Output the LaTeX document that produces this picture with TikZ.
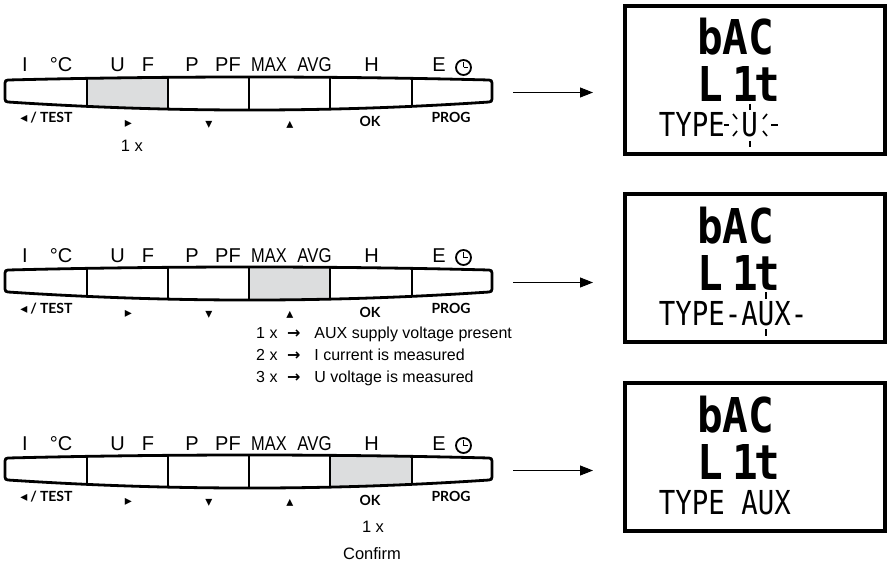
\documentclass[tikz,border=0pt]{standalone}
\usepackage{fontspec}
\usetikzlibrary{arrows.meta}
\setmainfont{Liberation Sans}
\newfontfamily\symfont{DejaVu Sans}
\newfontfamily\lcdfont{DejaVu Sans Mono}
\newfontfamily\keyfont{Lato}
\definecolor{keygray}{RGB}{220,221,222}
\newcommand\cond[2]{\scalebox{#1}[1]{#2}}
\def\barshape{(8,80) .. controls (170,76) and (330,76) .. (489,80) .. controls (491,80) and (492,81) .. (492,83) -- (492,99) .. controls (492,101) and (491,102) .. (489,102) .. controls (330,112.7) and (170,112.7) .. (8,102) .. controls (6,102) and (5,101) .. (5,99) -- (5,83) .. controls (5,81) and (6,80) .. (8,80) -- cycle}
\tikzset{
  barline/.style={line width=2.8pt, line join=round},
  toplbl/.style={font=\fontsize{20}{20}\selectfont, anchor=base, inner sep=0pt},
  keylbl/.style={font=\keyfont\bfseries\fontsize{14}{14}\selectfont, anchor=base, inner sep=0pt},
  tri/.style={font=\symfont\fontsize{14}{14}\selectfont, inner sep=0pt},
  desc/.style={font=\fontsize{16}{16}\selectfont, anchor=base west, inner sep=0pt},
  descc/.style={font=\fontsize{16.5}{16.5}\selectfont, anchor=base, inner sep=0pt},
  lcdbox/.style={draw, line width=4pt, minimum width=260pt, minimum height=148pt, inner sep=0pt},
  bigseg/.style={font=\lcdfont\bfseries\fontsize{48}{48}\selectfont, anchor=base west, inner sep=0pt},
  smallseg/.style={font=\lcdfont\fontsize{33}{33}\selectfont, anchor=base west, inner sep=0pt},
  flow/.style={line width=0.9pt, -{Triangle[length=13pt,width=10pt]}},
  ray/.style={line width=1.6pt},
  clock/.style={circle, draw, line width=1.8pt, minimum size=15pt, inner sep=0pt},
}
\newcommand\keypad[4]{%
\begin{scope}[shift={(0,#1)}]
  \begin{scope}
    \clip \barshape;
    \fill[keygray] (#2,60) rectangle (#3,130);
    \foreach \x in {87,168,249,330,412} \draw[barline] (\x,60) -- (\x,130);
  \end{scope}
  \draw[barline] \barshape;
  \node[toplbl] (I#4) at (25,72) {I};
  \node[toplbl] (C#4) at (61,72) {°C};
  \node[toplbl] (U#4) at (117.5,72) {U};
  \node[toplbl] (F#4) at (148,72) {F};
  \node[toplbl] (P#4) at (192,72) {P};
  \node[toplbl] (PF#4) at (228,72) {PF};
  \node[toplbl] (MAX#4) at (269,72) {\cond{0.82}{MAX}};
  \node[toplbl] (AVG#4) at (314.5,72) {\cond{0.84}{AVG}};
  \node[toplbl] (H#4) at (371.5,72) {H};
  \node[toplbl] (E#4) at (439,72) {E};
  \node[clock] (clk#4) at (463.5,67.5) {};
  \draw[line width=1.8pt] (clk#4.center) -- ++(0,-5.5);
  \draw[line width=1.8pt] (clk#4.center) -- ++(4.5,0);
  \node[keylbl] (TEST#4) at (46.5,123) {{\symfont\fontsize{14}{14}\selectfont ◂}\kern3pt/\kern3pt TEST};
  \node[tri] (R#4) at (128.5,124) {▸};
  \node[tri] (D#4) at (209,124.5) {▾};
  \node[tri] (A#4) at (290,124.5) {▴};
  \node[keylbl] (OK#4) at (370,127) {OK};
  \node[keylbl] (PROG#4) at (451,123) {PROG};
\end{scope}}
\newcommand\display[2]{%
\begin{scope}[shift={(0,#1)}]
  \node[lcdbox] (disp#2) at (755,80) {};
  \node[bigseg] (bac#2) at (697,55) {\cond{0.89}{bAC}};
  \node[bigseg] (lit#2) at (697,102) {\cond{0.89}{L\kern11pt 1\kern-4pt t}};
\end{scope}}
\begin{document}
\begin{tikzpicture}[x=1pt,y=-1pt]
\useasboundingbox (0,0) rectangle (890,564);
% keypads
\keypad{0}{87}{168}{a}
\keypad{190}{249}{330}{b}
\keypad{378}{330}{412}{c}
% displays
\display{0}{1}
\display{188}{2}
\display{377}{3}
% bottom lines of displays
\node[smallseg] (type1) at (658.75,137) {\cond{0.83}{TYPE\kern19.87pt U}};
\draw[ray] (724,125) -- (729,125);
\draw[ray] (771,125) -- (778,125);
\draw[ray] (750,104) -- (750,110);
\draw[ray] (750,141) -- (750,147);
\draw[ray] (733,114) -- (737,119);
\draw[ray] (733,136) -- (737,131);
\draw[ray] (767,114) -- (763,119);
\draw[ray] (767,136) -- (763,131);
\node[smallseg] (type2) at (658.75,325) {\cond{0.83}{TYPE-AUX-}};
\draw[ray] (766,292) -- (766,299);
\draw[ray] (766,329) -- (766,336);
\node[smallseg] (type3) at (658.75,514) {\cond{0.83}{TYPE\kern19.87pt AUX}};
% annotations
\node[descc] (n1) at (132,152) {1 x};
\node[desc] (m1) at (256,338) {1 x\hspace{9.5pt}{\symfont\bfseries →}\hspace{14pt}AUX supply voltage present};
\node[desc] (m2) at (256,360) {2 x\hspace{9.5pt}{\symfont\bfseries →}\hspace{14pt}I current is measured};
\node[desc] (m3) at (256,382) {3 x\hspace{9.5pt}{\symfont\bfseries →}\hspace{14pt}U voltage is measured};
\node[descc] (n3) at (373,532) {1 x};
\node[descc] (conf) at (372,559) {Confirm};
% arrows
\coordinate (s1) at (513,92.5);
\coordinate (e1) at (593,92.5);
\coordinate (s2) at (513,282.5);
\coordinate (e2) at (593,282.5);
\coordinate (s3) at (513,470.5);
\coordinate (e3) at (593,470.5);
\draw[flow] (s1) -- (e1);
\draw[flow] (s2) -- (e2);
\draw[flow] (s3) -- (e3);
\end{tikzpicture}
\end{document}
